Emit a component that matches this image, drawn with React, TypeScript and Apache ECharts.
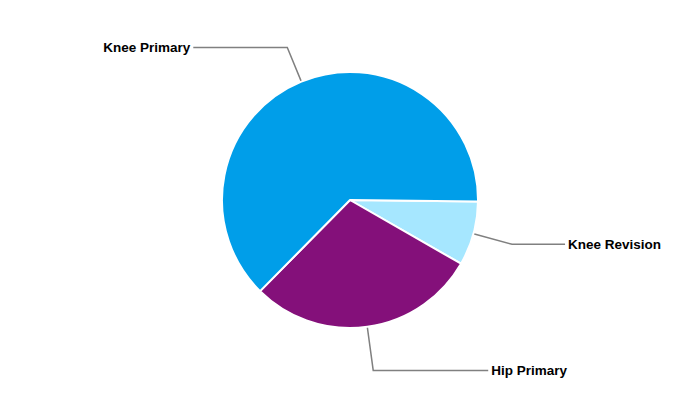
import React, { useEffect, useRef } from "react";
import * as echarts from "echarts";

const categories = ["Knee Revision", "Hip Primary", "Knee Primary"];
const values = [8.1, 29.1, 62.8];
const colors = ["#A6E7FF", "#84107A", "#009EE9"];
const lineLengths = [40, 44, 37];
const lineLengths2 = [53, 115, 94];

export default function App() {
  const ref = useRef<HTMLDivElement>(null);
  useEffect(() => {
    if (!ref.current) return;
    const chart = echarts.init(ref.current, undefined, { renderer: "svg" });
    const data = categories.map((name, i) => ({
      name,
      value: values[i],
      itemStyle: { color: colors[i] },
      labelLine: { length: lineLengths[i], length2: lineLengths2[i] },
    }));
    chart.setOption({
      animation: false,
      backgroundColor: "#ffffff",
      series: [
        {
          type: "pie",
          center: ["50%", "50%"],
          radius: 128,
          startAngle: -0.7,
          clockwise: true,
          avoidLabelOverlap: false,
          itemStyle: { borderColor: "#ffffff", borderWidth: 2 },
          emphasis: { disabled: true },
          label: {
            show: true,
            position: "outside",
            alignTo: "none",
            formatter: "{b}",
            color: "#000000",
            fontFamily: "Liberation Sans, Arial, sans-serif",
            fontWeight: "bold",
            fontSize: 13.5,
            distanceToLabelLine: 3,
          },
          labelLine: {
            show: true,
            smooth: false,
            lineStyle: { color: "#808080", width: 1.5 },
          },
          data,
        },
      ],
    });
    return () => chart.dispose();
  }, []);
  return (
    <div
      ref={ref}
      style={{ position: "fixed", left: 0, top: 0, width: 700, height: 400 }}
    />
  );
}
